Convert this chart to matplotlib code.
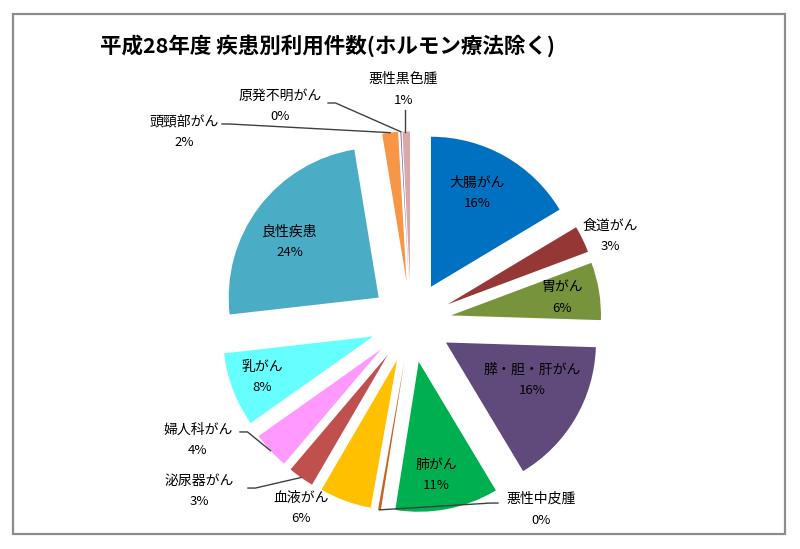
import numpy as np
import matplotlib
matplotlib.use("Agg")
import matplotlib.pyplot as plt
from matplotlib.patches import Rectangle

plt.rcParams['font.family'] = ['Noto Sans CJK JP', 'DejaVu Sans']

# data (clockwise from 12 o'clock)
categories = ['大腸がん', '食道がん', '胃がん', '膵・胆・肝がん', '肺がん', '悪性中皮腫',
              '血液がん', '泌尿器がん', '婦人科がん', '乳がん', '良性疾患',
              '頭頸部がん', '原発不明がん', '悪性黒色腫']
values = [16.4, 2.9, 6.2, 15.9, 11.1, 0.3, 5.6, 2.8, 4.0, 8.0, 24.2, 1.7, 0.1, 0.8]
colors = ['#0070C0', '#953735', '#77933C', '#604A7B', '#00B050', '#C0661E',
          '#FFC000', '#C0504D', '#FF99FF', '#66FFFF', '#4BACC6',
          '#F79646', '#8064A2', '#D9A8A8']

# label placement (pie units) and optional leader start point
label_pos = {
    '大腸がん': (0.44, 0.86), '食道がん': (1.33, 0.57), '胃がん': (1.01, 0.16),
    '膵・胆・肝がん': (0.81, -0.39), '肺がん': (0.17, -1.02),
    '悪性中皮腫': (0.87, -1.25), '血液がん': (-0.73, -1.24),
    '泌尿器がん': (-1.41, -1.13), '婦人科がん': (-1.42, -0.79),
    '乳がん': (-0.99, -0.37), '良性疾患': (-0.81, 0.53),
    '頭頸部がん': (-1.51, 1.27), '原発不明がん': (-0.87, 1.44),
    '悪性黒色腫': (-0.05, 1.55),
}
leader_start = {
    '頭頸部がん': (-1.26, 1.32), '原発不明がん': (-0.553, 1.46),
    '悪性黒色腫': (-0.04, 1.413), '悪性中皮腫': (0.58, -1.207),
    '泌尿器がん': (-1.087, -1.107), '婦人科がん': (-1.14, -0.733),
}

W, H = 800, 549
R = 150.0
cx, cy = 411, 322

fig = plt.figure(figsize=(W / 100, H / 100), dpi=100)
ax = fig.add_axes([0, 0, 1, 1])

wedges, _ = ax.pie(values, colors=colors, startangle=90, counterclock=False,
                   explode=[0.27] * len(values), radius=1,
                   wedgeprops=dict(linewidth=0))

ax.set_xlim(-cx / R, (W - cx) / R)
ax.set_ylim(-(H - cy) / R, cy / R)
ax.set_aspect('equal')
ax.axis('off')

dy = 10.5 / R
for w, name, v in zip(wedges, categories, values):
    x, y = label_pos[name]
    ax.text(x, y + dy, name, ha='center', va='center', fontsize=10)
    ax.text(x, y - dy, f'{round(v)}%', ha='center', va='center', fontsize=9.5)
    if name in leader_start:
        mid = np.deg2rad((w.theta1 + w.theta2) / 2)
        ex, ey = w.center
        px, py = ex + np.cos(mid), ey + np.sin(mid)
        sx, sy = leader_start[name]
        if name == '悪性黒色腫':
            ax.plot([sx, sx], [sy, py], color='#404040', lw=1)
        else:
            step = 0.05 if px > sx else -0.05
            ax.plot([sx, sx + step, px], [sy, sy, py], color='#404040', lw=1)

fig.text(100 / W, 1 - 46 / H, '平成28年度 疾患別利用件数(ホルモン療法除く)',
         ha='left', va='center', fontsize=15.5, fontweight='bold')

fig.patches.append(Rectangle((13 / W, 1 - 534 / H), (785 - 13) / W, (534 - 14) / H,
                             transform=fig.transFigure, fill=False,
                             edgecolor='#8C8C8C', linewidth=1.6))

fig.savefig('out.png', dpi=100)
